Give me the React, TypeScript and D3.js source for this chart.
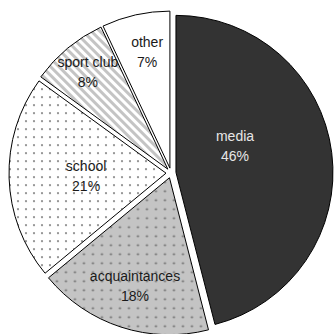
import React from "react";
import * as d3 from "d3";

const categories = ["media", "acquaintances", "school", "sport club", "other"];
const values = [46, 18, 21, 8, 7];
const percentLabels = ["46%", "18%", "21%", "8%", "7%"];

// styling (not data)
const fills = ["#333333", "url(#dotsGray)", "url(#dotsWhite)", "url(#stripes)", "#ffffff"];
const textColors = ["#e6e6e6", "#1a1a1a", "#1a1a1a", "#1a1a1a", "#1a1a1a"];
const labelAngleShift = [-15.8, -0.4, 0.1, 0.2, 1.4];
const labelRadiusFactor = [0.443, 0.758, 0.541, 0.834, 0.783];

const W = 334;
const H = 334;
const CX = 171;
const CY = 173;
const R = 157;
const EXPLODE = 5;

export default function App() {
  const pie = d3
    .pie<number>()
    .sort(null)
    .value((d) => d)
    .startAngle(0)
    .endAngle(2 * Math.PI);
  const arcs = pie(values);
  const arcGen = d3.arc<d3.PieArcDatum<number>>().innerRadius(0).outerRadius(R);

  return (
    <svg
      width={W}
      height={H}
      style={{ position: "absolute", left: 0, top: 0, background: "#fff" }}
    >
      <defs>
        <pattern id="dotsWhite" width={8} height={8} patternUnits="userSpaceOnUse">
          <rect width={8} height={8} fill="#fff" />
          <circle cx={4} cy={4} r={1.1} fill="#808080" />
        </pattern>
        <pattern id="dotsGray" width={9} height={9} patternUnits="userSpaceOnUse">
          <rect width={9} height={9} fill="#c4c4c4" />
          <circle cx={4.5} cy={4.5} r={1.1} fill="#6a6a6a" />
        </pattern>
        <pattern
          id="stripes"
          width={6}
          height={6}
          patternUnits="userSpaceOnUse"
          patternTransform="rotate(-45)"
        >
          <rect width={6} height={6} fill="#fff" />
          <rect width={3} height={6} fill="#c4c4c4" />
        </pattern>
      </defs>
      {arcs.map((a, i) => {
        const mid = (a.startAngle + a.endAngle) / 2;
        const dx = EXPLODE * Math.sin(mid);
        const dy = -EXPLODE * Math.cos(mid);
        return (
          <path
            key={categories[i]}
            d={arcGen(a) || ""}
            transform={`translate(${CX + dx},${CY + dy})`}
            fill={fills[i]}
            stroke="#000"
            strokeWidth={1}
            strokeLinejoin="round"
          />
        );
      })}
      {arcs.map((a, i) => {
        const mid = (a.startAngle + a.endAngle) / 2 + (labelAngleShift[i] * Math.PI) / 180;
        const rr = R * labelRadiusFactor[i];
        const x = CX + rr * Math.sin(mid);
        const y = CY - rr * Math.cos(mid);
        return (
          <g
            key={"l" + i}
            fontFamily="'Liberation Sans', Arial, sans-serif"
            fontSize={14}
            fill={textColors[i]}
            textAnchor="middle"
          >
            <text x={x} y={y - 10} dominantBaseline="central">
              {categories[i]}
            </text>
            <text x={x} y={y + 10} dominantBaseline="central">
              {percentLabels[i]}
            </text>
          </g>
        );
      })}
    </svg>
  );
}
